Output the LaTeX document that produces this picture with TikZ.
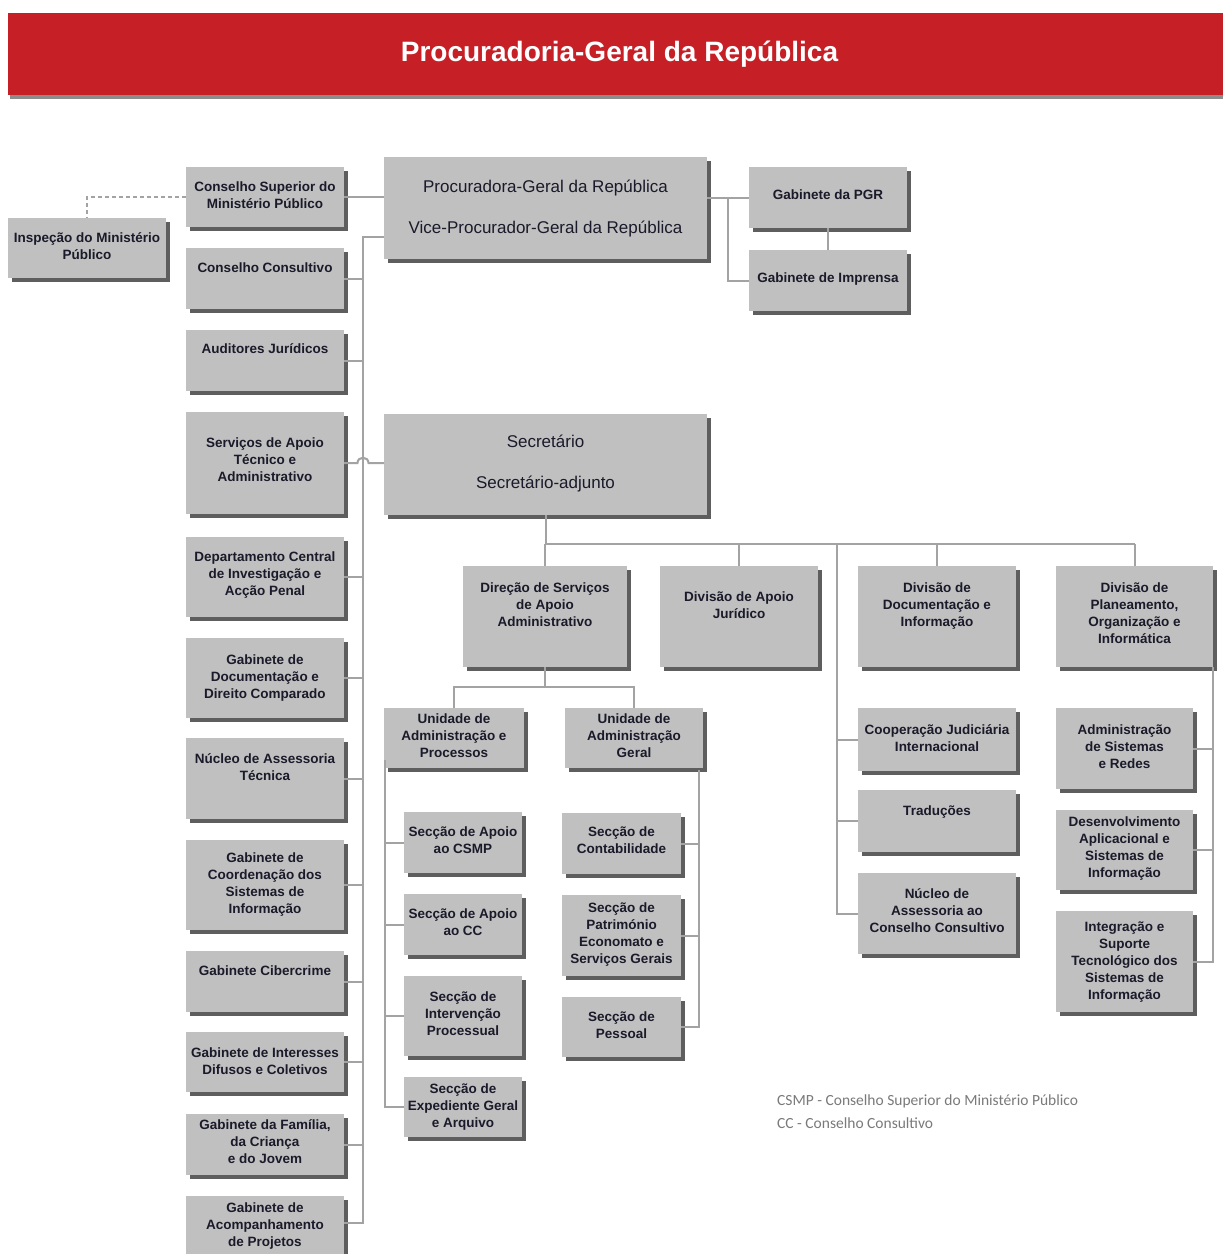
\documentclass[tikz,border=0pt]{standalone}
\usepackage{fontspec}
\setmainfont{Liberation Sans}
\newfontfamily\notefont{Carlito}
\usetikzlibrary{shadows}
\definecolor{boxgray}{HTML}{C0C0C0}
\definecolor{shadowgray}{HTML}{5E5E5E}
\definecolor{linegray}{HTML}{A3A3A3}
\definecolor{bannerred}{HTML}{C61F26}
\definecolor{notegray}{HTML}{7A7A7A}
\definecolor{textdark}{HTML}{1A1A2A}
\tikzset{
  orgbox/.style={fill=boxgray, draw=none, inner sep=0pt, outer sep=0pt,
    drop shadow={shadow xshift=3.5pt, shadow yshift=-3.5pt, fill=shadowgray, opacity=1}},
  orgtext/.style={inner sep=0pt, align=center, text=textdark,
    font=\bfseries\fontsize{13.5}{17}\selectfont},
  bigtext/.style={inner sep=0pt, text=textdark, font=\fontsize{17}{20}\selectfont},
  sectext/.style={inner sep=0pt, text=textdark, font=\fontsize{17}{20}\selectfont},
  conn/.style={draw=linegray, line width=2pt},
  dashline/.style={draw=linegray, line width=2pt, dash pattern=on 4pt off 3pt},
  banner/.style={fill=bannerred, draw=none, inner sep=0pt, text=white,
    font=\bfseries\fontsize{28}{32}\selectfont,
    drop shadow={shadow xshift=1.5pt, shadow yshift=-4pt, fill=black!45, opacity=1}},
  notetext/.style={inner sep=0pt, anchor=west, text=notegray, font=\notefont\fontsize{15.5}{18}\selectfont}
}
\newcommand{\orgbox}[7]{%
  \node[orgbox, minimum width={#4-#2}, minimum height={#5-#3}] (#1) at ({(#2+#4)/2},{(#3+#5)/2}) {};
  \node[orgtext, anchor=north] (#1-t) at ({(#2+#4)/2},{#6-5.5}) {#7};
}
\begin{document}
\begin{tikzpicture}[x=1pt,y=-1pt]
\useasboundingbox (0,0) rectangle (1223,1254);
\clip (0,0) rectangle (1223,1254);
\fill[white] (0,0) rectangle (1223,1254);

% banner
\node[banner, minimum width=1223pt, minimum height=82pt] (title) at (619.5,54) {Procuradoria-Geral da República};

% top level
\node[orgbox, minimum width=323pt, minimum height=102pt] (pgr) at (545.5,208) {};
\node[bigtext, anchor=base] (pgr-t1) at (545.5,192) {Procuradora-Geral da República};
\node[bigtext, anchor=base] (pgr-t2) at (545.5,233) {Vice-Procurador-Geral da República};

\node[orgbox, minimum width=323pt, minimum height=101pt] (sec) at (545.5,464.5) {};
\node[sectext, anchor=base] (sec-t1) at (545.5,447) {Secretário};
\node[sectext, anchor=base] (sec-t2) at (545.5,488) {Secretário-adjunto};

\orgbox{gpgr}{749}{167}{907}{228}{195}{Gabinete da PGR}
\orgbox{gimp}{749}{250}{907}{311}{278}{Gabinete de Imprensa}

% left column
\orgbox{csmp}{186}{167}{344}{227}{187}{Conselho Superior do\\Ministério Público}
\orgbox{insp}{8}{218}{166}{278}{238}{Inspeção do Ministério\\Público}
\orgbox{ccons}{186}{248}{344}{309}{268}{Conselho Consultivo}
\orgbox{aud}{186}{330}{344}{391}{349}{Auditores Jurídicos}
\orgbox{sat}{186}{412}{344}{514}{443}{Serviços de Apoio\\Técnico e\\Administrativo}
\orgbox{dciap}{186}{537}{344}{617}{557}{Departamento Central\\de Investigação e\\Acção Penal}
\orgbox{gddc}{186}{638}{344}{718}{660}{Gabinete de\\Documentação e\\Direito Comparado}
\orgbox{nat}{186}{738}{344}{819}{759}{Núcleo de Assessoria\\Técnica}
\orgbox{gcsi}{186}{840}{344}{930}{858}{Gabinete de\\Coordenação dos\\Sistemas de\\Informação}
\orgbox{gcib}{186}{951}{344}{1012}{971}{Gabinete Cibercrime}
\orgbox{gidc}{186}{1032}{344}{1092}{1053}{Gabinete de Interesses\\Difusos e Coletivos}
\orgbox{gfcj}{186}{1114}{344}{1175}{1125}{Gabinete da Família,\\da Criança\\e do Jovem}
\orgbox{gap}{186}{1196}{344}{1290}{1208}{Gabinete de\\Acompanhamento\\de Projetos}

% divisions
\orgbox{dsa}{463}{566}{627}{667}{588}{Direção de Serviços\\de Apoio\\Administrativo}
\orgbox{daj}{660}{566}{818}{667}{597}{Divisão de Apoio\\Jurídico}
\orgbox{ddi}{858}{566}{1016}{667}{588}{Divisão de\\Documentação e\\Informação}
\orgbox{dpl}{1056}{566}{1213}{667}{588}{Divisão de\\Planeamento,\\Organização e\\Informática}

\orgbox{uap}{384}{708}{524}{768}{719}{Unidade de\\Administração e\\Processos}
\orgbox{uag}{565}{708}{703}{768}{719}{Unidade de\\Administração\\Geral}

\orgbox{scsmp}{404}{812}{522}{873}{832}{Secção de Apoio\\ao CSMP}
\orgbox{scc}{404}{894}{522}{955}{914}{Secção de Apoio\\ao CC}
\orgbox{sip}{404}{976}{522}{1056}{997}{Secção de\\Intervenção\\Processual}
\orgbox{seg}{404}{1077}{522}{1137}{1089}{Secção de\\Expediente Geral\\e Arquivo}

\orgbox{scont}{562}{813}{681}{874}{832}{Secção de\\Contabilidade}
\orgbox{spat}{562}{895}{681}{976}{908}{Secção de\\Património\\Economato e\\Serviços Gerais}
\orgbox{spes}{562}{997}{681}{1057}{1017}{Secção de\\Pessoal}

\orgbox{coop}{858}{708}{1016}{771}{730}{Cooperação Judiciária\\Internacional}
\orgbox{trad}{858}{790}{1016}{852}{811}{Traduções}
\orgbox{nacc}{858}{873}{1016}{954}{894}{Núcleo de\\Assessoria ao\\Conselho Consultivo}

\orgbox{asr}{1056}{708}{1193}{789}{730}{Administração\\de Sistemas\\e Redes}
\orgbox{dasi}{1056}{810}{1193}{890}{822}{Desenvolvimento\\Aplicacional e\\Sistemas de\\Informação}
\orgbox{istsi}{1056}{911}{1193}{1012}{927}{Integração e\\Suporte\\Tecnológico dos\\Sistemas de\\Informação}

% connectors: left trunk
\coordinate (tTop) at (363,237);
\coordinate (tBot) at (363,1223);
\draw[conn] (pgr.west |- tTop) -- (tTop) -- (tBot) -- (tBot -| gap.east);
\foreach \n in {ccons,aud,dciap,gddc,nat,gcsi,gcib,gidc,gfcj}
  \draw[conn] (\n.east) -- (\n.east -| tTop);
\coordinate (hopA) at (357.5,463);
\coordinate (hopB) at (368.5,463);
\draw[conn] (sat.east) -- (hopA) .. controls ([yshift=7pt]hopA) and ([yshift=7pt]hopB) .. (hopB) -- (hopB -| sec.west);
\draw[conn] (csmp.east) -- (csmp.east -| pgr.west);
\draw[dashline] (csmp.west) -| (insp.north);

% PGR side
\draw[conn] (gpgr.west -| pgr.east) -- (gpgr.west);
\coordinate (pj) at (728,197.5);
\draw[conn] (pj) |- (gimp.west);
\draw[conn] (gpgr.south) -- (gimp.north);

% Secretario bus
\coordinate (busL) at (545.5,544);
\coordinate (busR) at (1134.5,544);
\draw[conn] (sec.south) -- (busL) -- (busR);
\foreach \n in {dsa,daj,ddi,dpl}
  \draw[conn] (\n.north) -- (\n.north |- busL);
\coordinate (v2) at (837,544);
\draw[conn] (v2) |- (nacc.west);
\draw[conn] (coop.west) -- (coop.west -| v2);
\draw[conn] (trad.west) -- (trad.west -| v2);

\coordinate (v3) at (1213,667);
\draw[conn] (v3) |- (istsi.east);
\draw[conn] (asr.east) -- (asr.east -| v3);
\draw[conn] (dasi.east) -- (dasi.east -| v3);

% Direcao
\coordinate (dj) at (545,687);
\draw[conn] (dsa.south) -- (dj);
\draw[conn] (uap.north) |- (dj) -| (uag.north);

\coordinate (v4) at (385,760);
\draw[conn] (v4) |- (seg.west);
\foreach \n in {scsmp,scc,sip}
  \draw[conn] (\n.west) -- (\n.west -| v4);

\coordinate (v5) at (699,770);
\draw[conn] (v5) |- (spes.east);
\foreach \n in {scont,spat}
  \draw[conn] (\n.east) -- (\n.east -| v5);

% notes
\node[notetext] (note1) at (777,1101) {CSMP - Conselho Superior do Ministério Público};
\node[notetext] (note2) at (777,1123) {CC - Conselho Consultivo};
\end{tikzpicture}
\end{document}
